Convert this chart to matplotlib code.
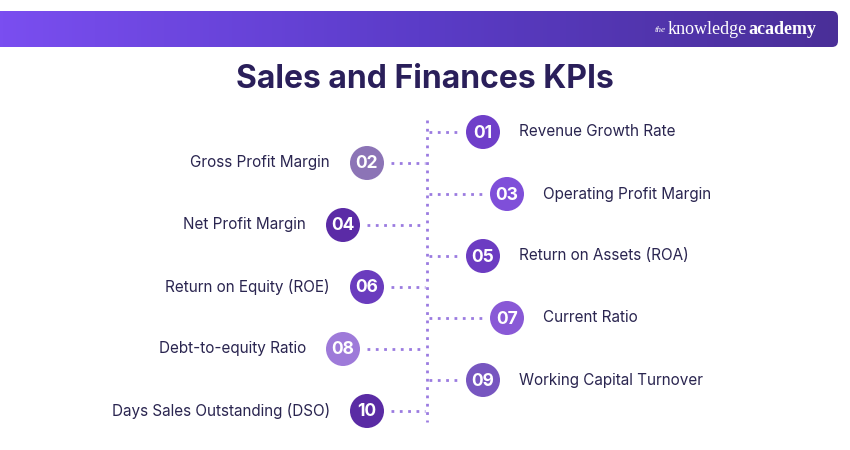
import numpy as np
import matplotlib.pyplot as plt
from matplotlib.patches import Circle, FancyBboxPatch
from matplotlib.colors import LinearSegmentedColormap

numbers = ['01', '02', '03', '04', '05', '06', '07', '08', '09', '10']
labels = ['Revenue Growth Rate', 'Gross Profit Margin', 'Operating Profit Margin',
          'Net Profit Margin', 'Return on Assets (ROA)', 'Return on Equity (ROE)',
          'Current Ratio', 'Debt-to-equity Ratio', 'Working Capital Turnover',
          'Days Sales Outstanding (DSO)']
colors = ['#6f3fc9', '#8c74b6', '#7f4fd9', '#5b2ba6', '#6c3cc2',
          '#6a3cbe', '#8959d6', '#9e7ad9', '#7756c0', '#5a2ba4']

plt.rcParams['font.family'] = ['Inter', 'DejaVu Sans']
fig = plt.figure(figsize=(8.5, 4.5), dpi=100)
ax = fig.add_axes([0, 0, 1, 1])
ax.set_xlim(0, 850)
ax.set_ylim(450, 0)
ax.axis('off')

# header bar with gradient
grad = np.linspace(0, 1, 256).reshape(1, -1)
cmap = LinearSegmentedColormap.from_list('hdr', ['#7a4ef0', '#5b3cc8', '#4a2f98'])
bar = FancyBboxPatch((-20, 11), 858, 36, boxstyle='round,pad=0,rounding_size=6',
                     fc='none', ec='none')
ax.add_patch(bar)
im = ax.imshow(grad, cmap=cmap, extent=[0, 838, 47, 11], aspect='auto', zorder=1)
im.set_clip_path(bar)
ax.text(655, 30, 'the', color='white', fontsize=6.5, style='italic', va='center',
        family='Liberation Serif', zorder=3)
ax.text(668, 29, 'knowledge', color='white', fontsize=13, va='center',
        family='Liberation Serif', zorder=3)
ax.text(748, 29, 'academy', color='white', fontsize=13, va='center', weight='bold',
        family='Liberation Serif', zorder=3)

ax.text(425, 80, 'Sales and Finances KPIs', ha='center', va='center',
        fontsize=23, weight='bold', color='#2a1f5a')

dot_color = '#9b7be0'
ax.plot([427, 427], [120, 422], ls=(0, (1, 2)), color=dot_color, lw=2)

for i, (num, lab, col) in enumerate(zip(numbers, labels, colors)):
    y = 132 + i * 31.0
    if i % 2 == 0:
        cx = 507 if (i // 2) % 2 == 1 else 483
        ax.plot([429, cx - 22], [y, y], ls=(0, (1, 2)), color=dot_color, lw=2)
        ax.text(cx + 36, y, lab, ha='left', va='center', fontsize=11, color='#2a2550')
    else:
        cx = 367 if (i // 2) % 2 == 0 else 343
        ax.plot([cx + 24, 425], [y, y], ls=(0, (1, 2)), color=dot_color, lw=2)
        ax.text(cx - 37, y, lab, ha='right', va='center', fontsize=11, color='#2a2550')
    ax.add_patch(Circle((cx, y), 17, fc=col, ec='none', zorder=4))
    ax.text(cx, y + 1, num, ha='center', va='center', fontsize=12.5, weight='bold',
            color='white', zorder=5)

fig.savefig('out.png', dpi=100)
